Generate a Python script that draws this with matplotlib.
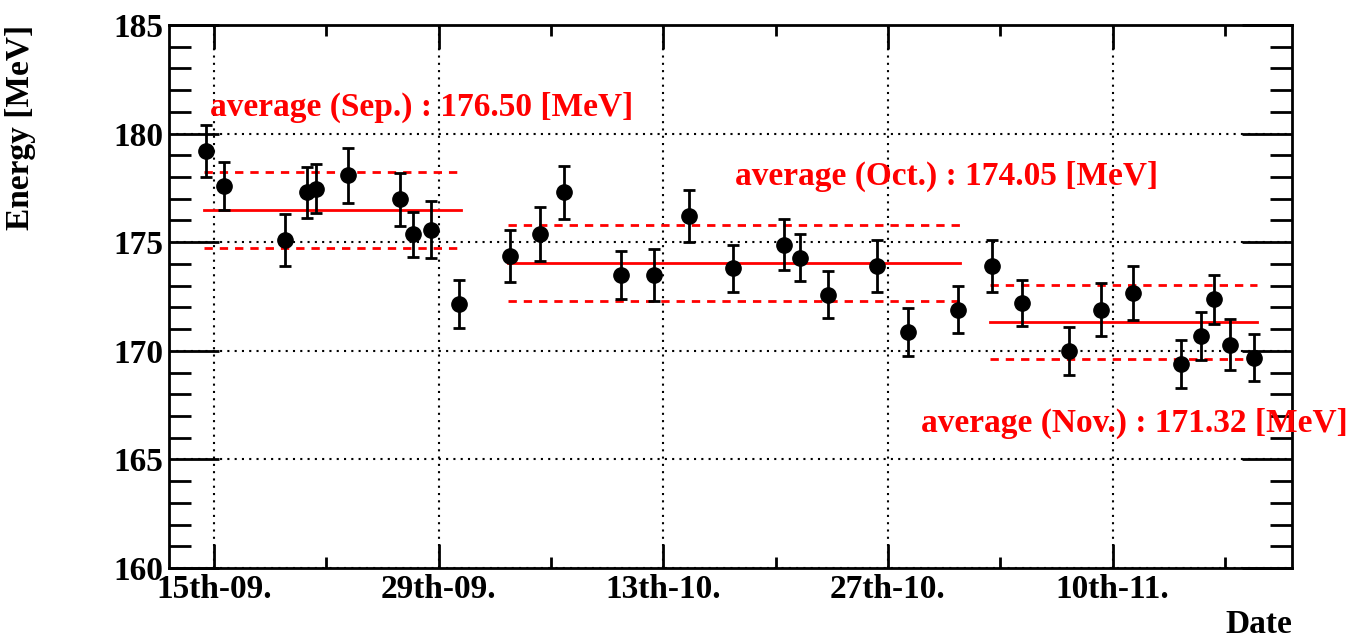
import numpy as np
import pandas as pd
import matplotlib
matplotlib.use('Agg')
import matplotlib.pyplot as plt
import matplotlib.dates as mdates
from matplotlib.ticker import MultipleLocator

# measured beam energy per run, grouped by month
dates_sep = ['2011-09-14 12:00', '2011-09-15 15:00', '2011-09-19 10:00', '2011-09-20 19:00',
             '2011-09-21 09:00', '2011-09-23 08:00', '2011-09-26 15:00', '2011-09-27 10:00',
             '2011-09-28 12:00', '2011-09-30 06:00']
energy_sep = [179.19, 177.60, 175.09, 177.29, 177.47, 178.09, 176.98, 175.37, 175.58, 172.17]
err_sep = [1.20, 1.10, 1.20, 1.18, 1.13, 1.27, 1.22, 1.03, 1.31, 1.10]

dates_oct = ['2011-10-03 11:00', '2011-10-05 08:00', '2011-10-06 19:00', '2011-10-10 09:00',
             '2011-10-12 10:00', '2011-10-14 14:00', '2011-10-17 08:00', '2011-10-20 13:00',
             '2011-10-21 13:00', '2011-10-23 06:00', '2011-10-26 07:00', '2011-10-28 06:00',
             '2011-10-31 09:00']
energy_oct = [174.37, 175.37, 177.29, 173.48, 173.48, 176.20, 173.79, 174.89, 174.29,
              172.59, 173.91, 170.87, 171.90]
err_oct = [1.21, 1.23, 1.21, 1.11, 1.20, 1.20, 1.07, 1.18, 1.09, 1.09, 1.18, 1.10, 1.09]

dates_nov = ['2011-11-02 12:00', '2011-11-04 09:00', '2011-11-07 06:00', '2011-11-09 07:00',
             '2011-11-11 07:00', '2011-11-14 06:00', '2011-11-15 12:00', '2011-11-16 08:00',
             '2011-11-17 07:00', '2011-11-18 20:00']
energy_nov = [173.89, 172.20, 169.99, 171.90, 172.66, 169.38, 170.68, 172.37, 170.29, 169.69]
err_nov = [1.20, 1.08, 1.09, 1.20, 1.23, 1.10, 1.11, 1.14, 1.18, 1.07]

months = ['Sep.', 'Oct.', 'Nov.']
averages = [176.50, 174.05, 171.32]
spreads = [1.75, 1.74, 1.71]

plt.rcParams['font.family'] = ['Liberation Serif', 'DejaVu Serif']
plt.rcParams['font.weight'] = 'bold'

fig = plt.figure(figsize=(13.5, 6.38), dpi=100)
ax = fig.add_axes([0.1252, 0.1097, 0.8318, 0.8511])

groups = [(dates_sep, energy_sep, err_sep), (dates_oct, energy_oct, err_oct),
          (dates_nov, energy_nov, err_nov)]
text_pos = [('2011-09-14 18:00', 181.2), ('2011-10-17 11:00', 178.05),
            ('2011-10-29 01:00', 166.65)]

for (d, e, s), name, avg, sp, (tx, ty) in zip(groups, months, averages, spreads, text_pos):
    t = pd.to_datetime(d)
    ax.errorbar(t, e, yerr=s, fmt='o', color='black', ms=11, elinewidth=2,
                capsize=4, capthick=2, zorder=5)
    t0, t1 = t.min() - pd.Timedelta(hours=3), t.max() + pd.Timedelta(hours=3)
    ax.plot([t0, t1], [avg, avg], color='red', lw=2, zorder=4)
    for off in (sp, -sp):
        ax.plot([t0, t1], [avg + off, avg + off], color='red', lw=2,
                dashes=(3, 2.5), zorder=4)
    ax.text(pd.Timestamp(tx), ty, 'average (%s) : %.2f [MeV]' % (name, avg),
            color='red', fontsize=24, fontweight='bold', ha='left', va='center')

ax.set_xticks(pd.date_range('2011-09-15', periods=5, freq='14D'))
ax.set_xticks(pd.date_range('2011-09-22', periods=5, freq='14D'), minor=True)
ax.xaxis.set_major_formatter(mdates.DateFormatter('%dth-%m.'))
ax.yaxis.set_major_locator(MultipleLocator(5))
ax.yaxis.set_minor_locator(MultipleLocator(1))
ax.set_xlim(pd.Timestamp('2011-09-12 05:00'), pd.Timestamp('2011-11-21 04:00'))
ax.set_ylim(160, 185)

ax.grid(True, which='major', color='black', linestyle=(0, (1, 2.5)), lw=1.5)
ax.tick_params(which='both', direction='in', top=True, right=True, width=2,
               labelsize=24, pad=4)
ax.tick_params(axis='y', which='major', length=36)
ax.tick_params(axis='y', which='minor', length=16)
ax.tick_params(axis='x', which='major', length=17)
ax.tick_params(axis='x', which='minor', length=8)
for lab in ax.get_xticklabels() + ax.get_yticklabels():
    lab.set_fontweight('bold')
for sp_ in ax.spines.values():
    sp_.set_linewidth(2)

ax.set_ylabel('Energy [MeV]', fontsize=24, fontweight='bold', ha='right', va='center')
ax.yaxis.set_label_coords(-0.1327, 1.0)
ax.set_xlabel('Date', fontsize=24, fontweight='bold', ha='right', va='center')
ax.xaxis.set_label_coords(1.0, -0.104)

fig.savefig('out.png', dpi=100)
